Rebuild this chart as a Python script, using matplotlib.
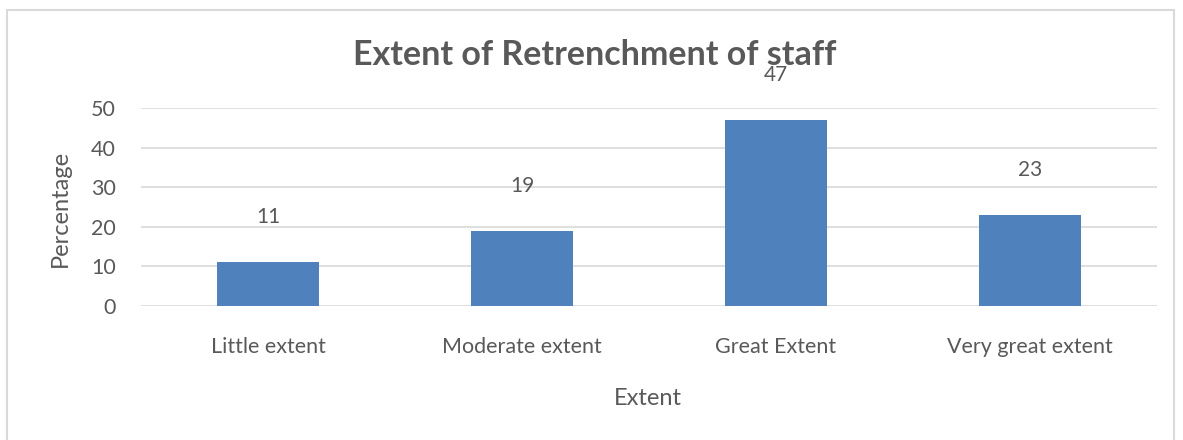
import matplotlib
matplotlib.use("Agg")
import matplotlib.pyplot as plt
from matplotlib.patches import Rectangle

categories = ["Little extent", "Moderate extent", "Great Extent", "Very great extent"]
values = [11, 19, 47, 23]
yticks = [0, 10, 20, 30, 40, 50]

W, H = 1183, 440
fig = plt.figure(figsize=(W / 100, H / 100), dpi=100)
plt.rcParams['font.family'] = ['Lato', 'DejaVu Sans']
txt = '#595959'
grid = '#D9D9D9'

# border
fig.patches.append(Rectangle((7 / W, -0.05), (1174 - 7) / W, (H - 10) / H + 0.05,
                             transform=fig.transFigure, fill=False, edgecolor=grid, linewidth=1.5))

left, right = 141, 1157
top, bottom = 108, 306
ax = fig.add_axes([left / W, 1 - bottom / H, (right - left) / W, (bottom - top) / H])
x = range(len(categories))
bars = ax.bar(x, values, width=0.4, color='#4F81BD', zorder=3)
ax.set_xlim(-0.5, len(categories) - 0.5)
ax.set_ylim(0, 50)
ax.set_yticks(yticks)
ax.set_xticks(list(x))
ax.set_xticklabels(categories)
ax.grid(axis='y', color=grid, linewidth=1.2, zorder=0)
for s in ax.spines.values():
    s.set_visible(False)
ax.tick_params(length=0, labelsize=15.5, colors=txt)
ax.tick_params(axis='y', pad=18)
ax.tick_params(axis='x', pad=22)
for xi, v in zip(x, values):
    ax.annotate(str(v), (xi, v), xytext=(0, 45), textcoords='offset pixels',
                ha='center', va='center', fontsize=15, color=txt)

fig.text(595 / W, 1 - 55 / H, "Extent of Retrenchment of staff", ha='center', va='center',
         fontsize=24.5, fontweight='bold', color=txt)
fig.text(60 / W, 1 - 208 / H, "Percentage", rotation=90, ha='center', va='center',
         fontsize=17, color=txt)
fig.text(648 / W, 1 - 398 / H, "Extent", ha='center', va='center', fontsize=17, color=txt)

fig.savefig("out.png", dpi=100)
